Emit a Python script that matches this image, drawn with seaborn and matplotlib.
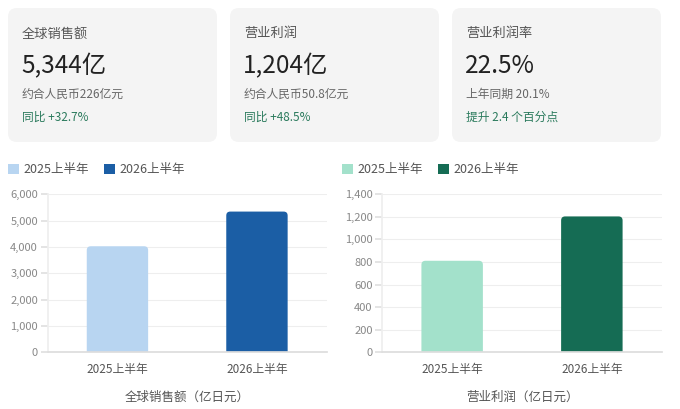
import matplotlib.pyplot as plt
import pandas as pd
import seaborn as sns
from matplotlib.patches import FancyBboxPatch, Patch

periods = ["2025上半年", "2026上半年"]
sales = [4027, 5344]
profit = [811, 1204]
sales_colors = ["#b8d5f1", "#1b5ea5"]
profit_colors = ["#a3e1cb", "#156c54"]

card_titles = ["全球销售额", "营业利润", "营业利润率"]
card_values = ["5,344亿", "1,204亿", "22.5%"]
card_notes = ["约合人民币226亿元", "约合人民币50.8亿元", "上年同期 20.1%"]
card_changes = ["同比 +32.7%", "同比 +48.5%", "提升 2.4 个百分点"]

sns.set_theme(style="white")
plt.rcParams["font.family"] = ["Noto Sans CJK SC", "DejaVu Sans"]
plt.rcParams["axes.unicode_minus"] = False

W, H = 680, 409
fig = plt.figure(figsize=(W / 100, H / 100), dpi=100)
fig.patch.set_facecolor("white")

# summary cards (pixel layout converted to inches)
card_left = [8, 230, 452]
for left, title, value, note, change in zip(card_left, card_titles, card_values, card_notes, card_changes):
    card = FancyBboxPatch(
        (left / 100, (H - 142) / 100), 2.09, 1.34,
        boxstyle="round,pad=0,rounding_size=0.09",
        transform=fig.dpi_scale_trans, facecolor="#f4f4f4", edgecolor="none",
    )
    fig.patches.append(card)
    x = (left + 14) / W
    fig.text(x, 1 - 34 / H, title, fontsize=9.5, color="#555555", va="center")
    fig.text(x - 1 / W, 1 - 66 / H, value, fontsize=17.5, color="#222222", va="center")
    fig.text(x, 1 - 94 / H, note, fontsize=8.5, color="#666666", va="center")
    fig.text(x, 1 - 117 / H, change, fontsize=8.5, color="#2a7a5c", va="center")


def bar_panel(rect, values, colors, ymax, step, xlabel, legend_x):
    ax = fig.add_axes(rect)
    df = pd.DataFrame({"period": periods, "value": values})
    sns.barplot(data=df, x="period", y="value", hue="period", palette=colors,
                width=0.44, saturation=1, legend=False, ax=ax)
    ax.set_ylim(0, ymax)
    ax.set_yticks(range(0, ymax + 1, step))
    ax.set_yticklabels([f"{v:,}" for v in range(0, ymax + 1, step)])
    ax.grid(axis="y", color="#eeeeee", linewidth=0.8)
    ax.set_axisbelow(True)
    for side in ["top", "right"]:
        ax.spines[side].set_visible(False)
    ax.spines["left"].set_color("#eeeeee")
    ax.spines["bottom"].set_color("#dddddd")
    ax.tick_params(axis="y", length=5, color="#e0e0e0", labelsize=8, labelcolor="#888888",
                   left=True, pad=2)
    ax.tick_params(axis="x", length=0, labelsize=8.5, labelcolor="#555555", pad=8)
    ax.set_xlabel(xlabel, fontsize=9, color="#555555", labelpad=10)
    ax.set_ylabel("")

    # rounded top corners: rebuild each bar from its own rectangle
    px_w = ax.get_position().width * W
    px_h = ax.get_position().height * H
    xr = ax.get_xlim()[1] - ax.get_xlim()[0]
    r_x = 4 * xr / px_w
    aspect = (ymax / px_h) / (xr / px_w)
    for bar in list(ax.patches):
        x0, w, h = bar.get_x(), bar.get_width(), bar.get_height()
        fc = bar.get_facecolor()
        bar.remove()
        ax.add_patch(FancyBboxPatch(
            (x0, -r_x * aspect), w, h + r_x * aspect,
            boxstyle=f"round,pad=0,rounding_size={r_x}", mutation_aspect=aspect,
            facecolor=fc, edgecolor="none", zorder=2,
        ))

    handles = [Patch(facecolor=c, edgecolor="none") for c in colors]
    fig.legend(handles, periods, loc="center left", bbox_to_anchor=(legend_x, 1 - 170 / H),
               ncol=2, frameon=False, fontsize=9, labelcolor="#555555",
               handlelength=0.9, handleheight=0.9, handletextpad=0.35, columnspacing=1.2,
               borderaxespad=0, borderpad=0)
    return ax


bar_panel([47.7 / W, 56.7 / H, 279 / W, 158 / H], sales, sales_colors, 6000, 1000,
          "全球销售额（亿日元）", 8 / W)
bar_panel([382.3 / W, 56.7 / H, 279.4 / W, 158 / H], profit, profit_colors, 1400, 200,
          "营业利润（亿日元）", 342 / W)

fig.savefig("out.png", dpi=100)
